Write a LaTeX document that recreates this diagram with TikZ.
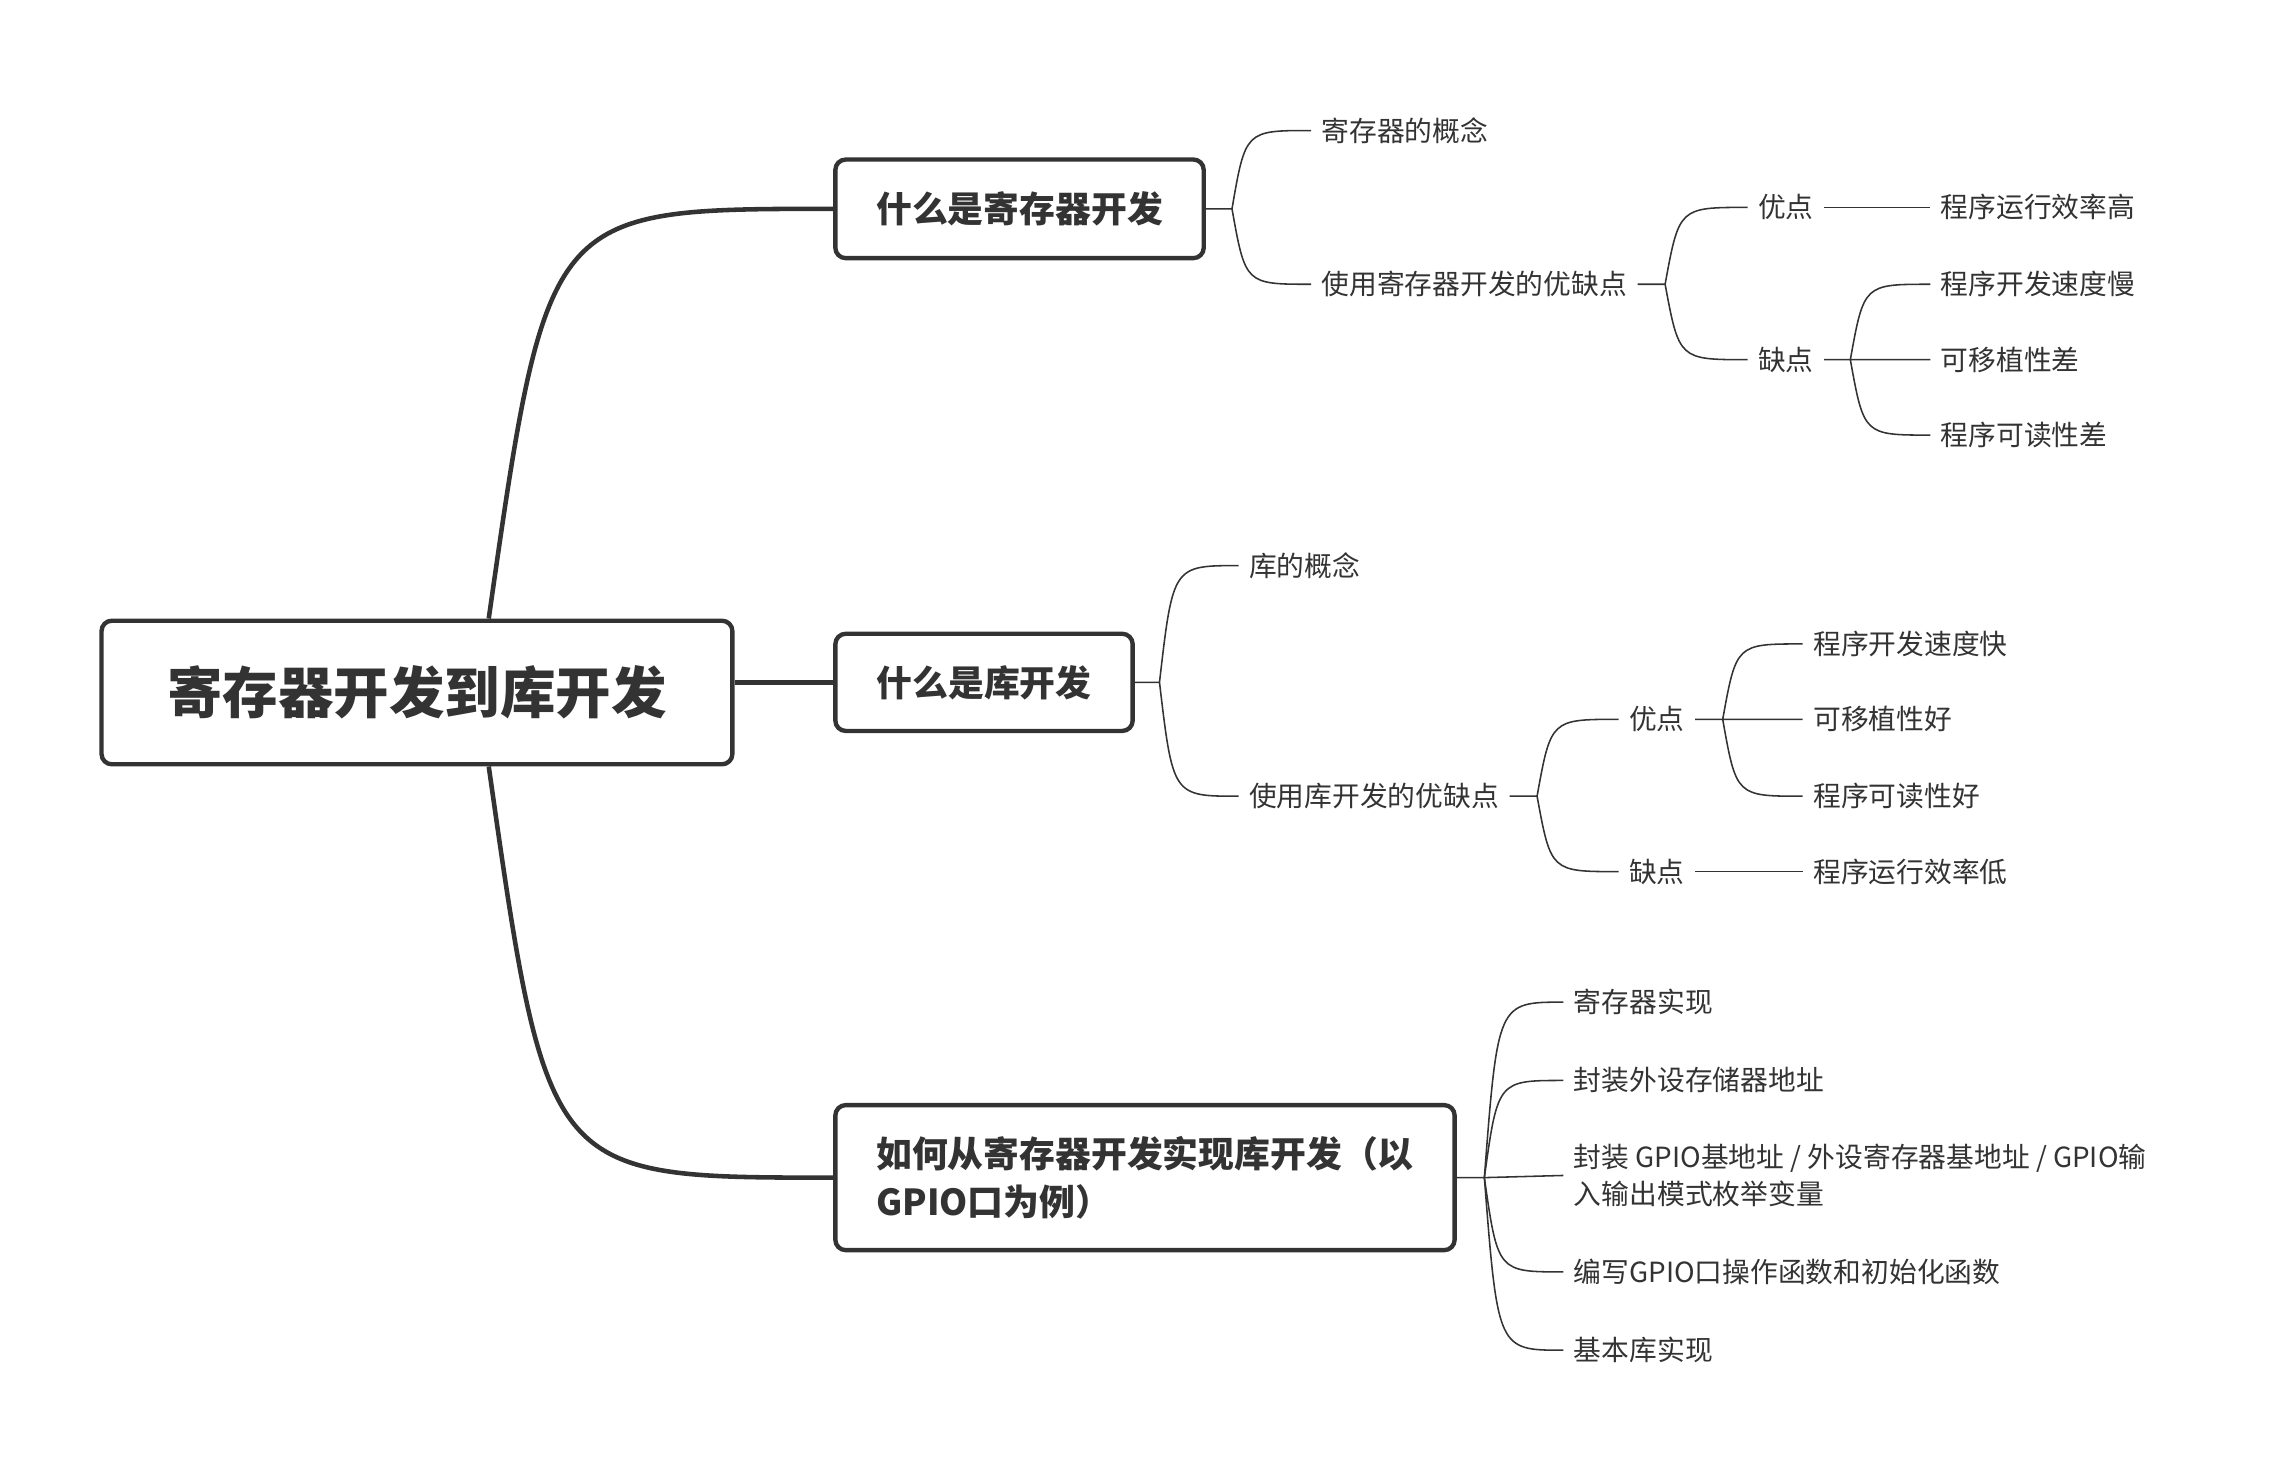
\documentclass[tikz,border=0pt]{standalone}
\usepackage{fontspec}
\setmainfont{Noto Sans CJK SC}
\usetikzlibrary{calc}
\definecolor{ink}{HTML}{333333}

\tikzset{
	topic/.style={draw=ink, line width=2.1pt, rounded corners=5pt, fill=white, text=ink, inner sep=0pt, font=\bfseries\fontsize{17.3}{23}\selectfont},
	leaf/.style={anchor=west, text=ink, inner xsep=4.9pt, inner ysep=1pt, align=left, font=\fontsize{13.4}{17.5}\selectfont},
	twig/.style={draw=ink, line width=0.75pt},
	limb/.style={draw=ink, line width=2.2pt},
	sprout/.style={to path={let \p1=(\tikztostart), \p2=(\tikztotarget) in .. controls ({\x1+0.17*(\x2-\x1)},\y2) .. (\tikztotarget)}}
}

\begin{document}
\begin{tikzpicture}[x=0.7pt, y=-0.7pt]
	\useasboundingbox (0,0) rectangle (1568,1021);
	\node[topic, minimum width=304.5pt, minimum height=69.3pt, font=\bfseries\fontsize{26.8}{32}\selectfont] (root) at (287.5,477.5) {寄存器开发到库开发};
	\node[topic, minimum width=177.8pt, minimum height=47.6pt] (t1) at (703,144) {什么是寄存器开发};
	\node[topic, minimum width=143.5pt, minimum height=46.9pt] (t2) at (678.5,470.5) {什么是库开发};
	\node[topic, minimum width=298.9pt, minimum height=70pt, align=left] (t3) at (789.5,812) {如何从寄存器开发实现库开发（以\\GPIO口为例）};

	\node[leaf] (a1) at (904,90) {寄存器的概念};
	\node[leaf] (a2) at (904,196) {使用寄存器开发的优缺点};
	\node[leaf] (a21) at (1205,143) {优点};
	\node[leaf] (a22) at (1205,248) {缺点};
	\node[leaf] (a211) at (1331,143) {程序运行效率高};
	\node[leaf] (a221) at (1331,196) {程序开发速度慢};
	\node[leaf] (a222) at (1331,248) {可移植性差};
	\node[leaf] (a223) at (1331,300) {程序可读性差};

	\node[leaf] (b1) at (854,390) {库的概念};
	\node[leaf] (b2) at (854,549) {使用库开发的优缺点};
	\node[leaf] (b21) at (1116,496) {优点};
	\node[leaf] (b22) at (1116,601) {缺点};
	\node[leaf] (b211) at (1243,444) {程序开发速度快};
	\node[leaf] (b212) at (1243,496) {可移植性好};
	\node[leaf] (b213) at (1243,549) {程序可读性好};
	\node[leaf] (b221) at (1243,601) {程序运行效率低};

	\node[leaf] (c1) at (1078,691) {寄存器实现};
	\node[leaf] (c2) at (1078,745) {封装外设存储器地址};
	\node[leaf] (c3) at (1078,810.5) {封装 GPIO基地址 / 外设寄存器基地址 / GPIO输\\入输出模式枚举变量};
	\node[leaf] (c4) at (1078,877) {编写GPIO口操作函数和初始化函数};
	\node[leaf] (c5) at (1078,931) {基本库实现};

	\coordinate (rn) at ($(root.north)+(49.5,0)$);
	\coordinate (rs) at ($(root.south)+(49.5,0)$);
	\coordinate (j1) at ($(t1.east)+(18,0)$);
	\coordinate (ja) at ($(a2.east)+(19,0)$);
	\coordinate (jb) at ($(a22.east)+(18,0)$);
	\coordinate (j2) at ($(t2.east)+(17,0)$);
	\coordinate (jc) at ($(b2.east)+(19,0)$);
	\coordinate (jd) at ($(b21.east)+(19,0)$);
	\coordinate (j3) at ($(t3.east)+(19,0)$);

	\draw[limb] (rn) to[sprout] (t1.west);
	\draw[limb] (rs) to[sprout] (t3.west);
	\draw[limb] (root.east |- t2.west) -- (t2.west);

	\draw[twig] (t1.east) -- (j1) (j1) to[sprout] (a1.west) (j1) to[sprout] (a2.west);
	\draw[twig] (a2.east) -- (ja) (ja) to[sprout] (a21.west) (ja) to[sprout] (a22.west);
	\draw[twig] (a21.east) -- (a211.west);
	\draw[twig] (a22.east) -- (jb) -- (a222.west) (jb) to[sprout] (a221.west) (jb) to[sprout] (a223.west);

	\draw[twig] (t2.east) -- (j2) (j2) to[sprout] (b1.west) (j2) to[sprout] (b2.west);
	\draw[twig] (b2.east) -- (jc) (jc) to[sprout] (b21.west) (jc) to[sprout] (b22.west);
	\draw[twig] (b21.east) -- (jd) -- (b212.west) (jd) to[sprout] (b211.west) (jd) to[sprout] (b213.west);
	\draw[twig] (b22.east) -- (b221.west);

	\draw[twig] (t3.east) -- (j3) -- (c3.west);
	\foreach \k in {c1,c2,c4,c5}
		\draw[twig] (j3) to[sprout] (\k.west);
\end{tikzpicture}
\end{document}
